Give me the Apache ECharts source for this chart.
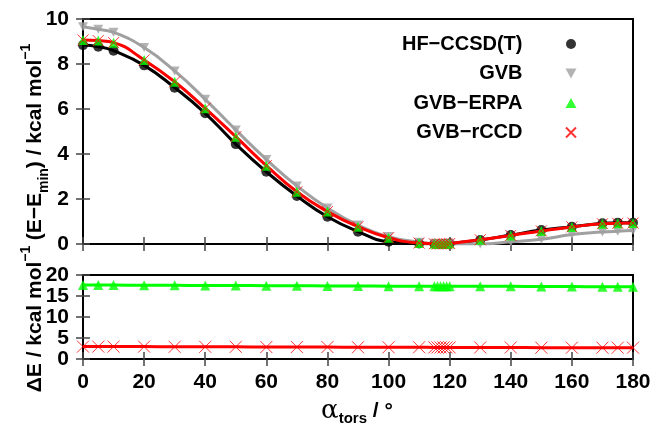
<!DOCTYPE html>
<html><head><meta charset="utf-8">
<script src="https://cdn.jsdelivr.net/npm/echarts@6/dist/echarts.min.js"></script>
<style>html,body{margin:0;padding:0;background:#fff}#c{width:654px;height:431px}</style>
</head><body><div id="c"></div>
<script>
// torsion angles (degrees)
const angles = [0,5,10,20,30,40,50,60,70,80,90,100,110,115,116,117,118,119,120,130,140,150,160,170,175,180];
// top panel: E - Emin (kcal/mol)
const hfCCSDT = [8.84,8.77,8.59,7.94,6.95,5.81,4.44,3.21,2.13,1.21,0.55,0.10,0.02,0.01,0.00,0.00,0.00,0.01,0.02,0.18,0.40,0.62,0.77,0.92,0.95,0.95];
const gvbE    = [9.66,9.54,9.41,8.73,7.69,6.43,5.07,3.76,2.58,1.60,0.84,0.33,0.08,0.02,0.01,0.00,0.00,0.00,0.00,0.00,0.10,0.21,0.42,0.53,0.57,0.60];
const erpaE   = [9.07,9.04,8.95,8.18,7.21,6.03,4.77,3.48,2.32,1.44,0.77,0.28,0.04,0.01,0.00,0.00,0.00,0.01,0.02,0.19,0.38,0.58,0.76,0.90,0.92,0.93];
const rccdE   = [9.07,9.04,8.95,8.18,7.21,6.03,4.77,3.48,2.32,1.44,0.77,0.28,0.04,0.01,0.00,0.00,0.00,0.01,0.02,0.19,0.38,0.58,0.76,0.90,0.92,0.93];
// bottom panel: Delta E (kcal/mol)
const erpaDE  = [17.6,17.6,17.6,17.55,17.55,17.5,17.5,17.45,17.45,17.4,17.4,17.35,17.35,17.3,17.3,17.3,17.3,17.3,17.3,17.3,17.3,17.25,17.25,17.2,17.2,17.2];
const rccdDE  = [2.95,2.95,2.95,2.95,2.9,2.9,2.9,2.85,2.85,2.85,2.8,2.8,2.8,2.75,2.75,2.75,2.75,2.75,2.75,2.75,2.75,2.7,2.7,2.7,2.7,2.7];
// axis ticks
const xTicks = {min:0, max:180, step:20};
const yTopTicks = {min:0, max:10, step:2};
const yBotTicks = {min:0, max:20, step:5};
const legendNames = ['HF\u2212CCSD(T)','GVB','GVB\u2212ERPA','GVB\u2212rCCD'];

const pairs = v => angles.map((a,i)=>[a, v[i]]);
const SANS = "'Liberation Sans',Arial,sans-serif";
const crossPath = 'path://M0,0L10,10M10,0L0,10';
const downTri = 'path://M0,0L10,0L5,9Z';

const tickStyle = {show:true, inside:true, length:7, lineStyle:{color:'#444', width:1.5}};
const lblStyle = (show, margin) => ({show, margin, showMinLabel:true, showMaxLabel:true, fontFamily:SANS, fontWeight:'bold', fontSize:21, color:'#000'});
function xAx(grid, pos, labels){
  return {type:'value', gridIndex:grid, position:pos, min:xTicks.min, max:xTicks.max, interval:xTicks.step,
    axisLine:{show:false}, axisTick:tickStyle, splitLine:{show:false}, axisLabel:lblStyle(labels, 13)};
}
function yAx(grid, pos, t, labels){
  return {type:'value', gridIndex:grid, position:pos, min:t.min, max:t.max, interval:t.step,
    axisLine:{show:false}, axisTick:tickStyle, splitLine:{show:false}, axisLabel:lblStyle(labels, 14)};
}

const chart = echarts.init(document.getElementById('c'), null, {renderer:'canvas'});
const lineS = (name, xi, yi, data, color, w, z) => ({type:'line', name, xAxisIndex:xi, yAxisIndex:yi, data,
  smooth:0.5, showSymbol:false, symbol:'none', z, lineStyle:{color, width:w}, silent:true});
const scat = (name, xi, yi, data, symbol, size, itemStyle, z) => ({type:'scatter', name, xAxisIndex:xi, yAxisIndex:yi,
  data, symbol, symbolSize:size, symbolKeepAspect:true, itemStyle, z, silent:true});
const crossStyle = {color:'transparent', borderColor:'#ff0000', borderWidth:1};
chart.setOption({
  animation:false,
  grid:[
    {left:83, top:19, width:550, height:225, show:true, borderColor:'#000', borderWidth:2, backgroundColor:'transparent'},
    {left:83, top:275, width:550, height:84, show:true, borderColor:'#000', borderWidth:2, backgroundColor:'transparent'}
  ],
  xAxis:[xAx(0,'bottom',false), xAx(0,'top',false), xAx(1,'bottom',true), xAx(1,'top',false)],
  yAxis:[yAx(0,'left',yTopTicks,true), yAx(0,'right',yTopTicks,false), yAx(1,'left',yBotTicks,true), yAx(1,'right',yBotTicks,false)],
  legend:{orient:'vertical', align:'right', right:77, top:32, padding:0, itemGap:5.5, itemWidth:11, itemHeight:10,
    data:legendNames, selectedMode:false,
    textStyle:{fontFamily:SANS, fontWeight:'bold', fontSize:20, lineHeight:24, color:'#000', padding:[0,38,0,0]}},
  series:[
    lineS('hfLine',0,0,pairs(hfCCSDT),'#000',3,2),
    lineS('gvbLine',0,0,pairs(gvbE),'#a0a0a0',3,2),
    scat(legendNames[0],0,0,pairs(hfCCSDT),'circle',10,{color:'#000'},3),
    scat(legendNames[1],0,0,pairs(gvbE),downTri,10,{color:'#a0a0a0'},3),
    lineS('erpaLine',0,0,pairs(erpaE),'#00ff00',2,4),
    lineS('rccdLine',0,0,pairs(rccdE),'#ff0000',3,4),
    scat(legendNames[2],0,0,pairs(erpaE),'triangle',10,{color:'#00ff00'},5),
    scat(legendNames[3],0,0,pairs(rccdE),crossPath,11,crossStyle,6),
    lineS('erpaDELine',2,2,pairs(erpaDE),'#00ff00',3,2),
    lineS('rccdDELine',2,2,pairs(rccdDE),'#ff0000',3,2),
    scat('erpaDE',2,2,pairs(erpaDE),'triangle',10,{color:'#00ff00'},5),
    scat('rccdDE',2,2,pairs(rccdDE),crossPath,12,crossStyle,6)
  ],
  graphic:[
    {type:'text', x:35, y:142, rotation:Math.PI/2, silent:true, style:{
      text:'{m|(E\u2212E}{s|min}{m|) / kcal mol}{p|\u22121}', align:'center', verticalAlign:'middle',
      rich:{m:{fontFamily:SANS, fontWeight:'bold', fontSize:21, lineHeight:32, fill:'#000'},
            s:{fontFamily:SANS, fontWeight:'bold', fontSize:14, verticalAlign:'bottom', fill:'#000'},
            p:{fontFamily:SANS, fontWeight:'bold', fontSize:14, verticalAlign:'top', fill:'#000'}}}},
    {type:'text', x:35, y:319, rotation:Math.PI/2, silent:true, style:{
      text:'{m|\u0394E / kcal mol}{p|\u22121}', align:'center', verticalAlign:'middle',
      rich:{m:{fontFamily:SANS, fontWeight:'bold', fontSize:21, lineHeight:32, fill:'#000'},
            p:{fontFamily:SANS, fontWeight:'bold', fontSize:14, verticalAlign:'top', fill:'#000'}}}},
    {type:'text', x:357, y:411, silent:true, style:{
      text:'{a|\u03b1}{s|tors}{m| / \u00b0}', align:'center', verticalAlign:'middle',
      rich:{a:{fontFamily:"'DejaVu Serif',serif", fontSize:26, lineHeight:30, fill:'#000'},
            s:{fontFamily:SANS, fontWeight:'bold', fontSize:15, verticalAlign:'bottom', fill:'#000'},
            m:{fontFamily:SANS, fontWeight:'bold', fontSize:21, lineHeight:30, fill:'#000'}}}}
  ]
});
</script></body></html>
